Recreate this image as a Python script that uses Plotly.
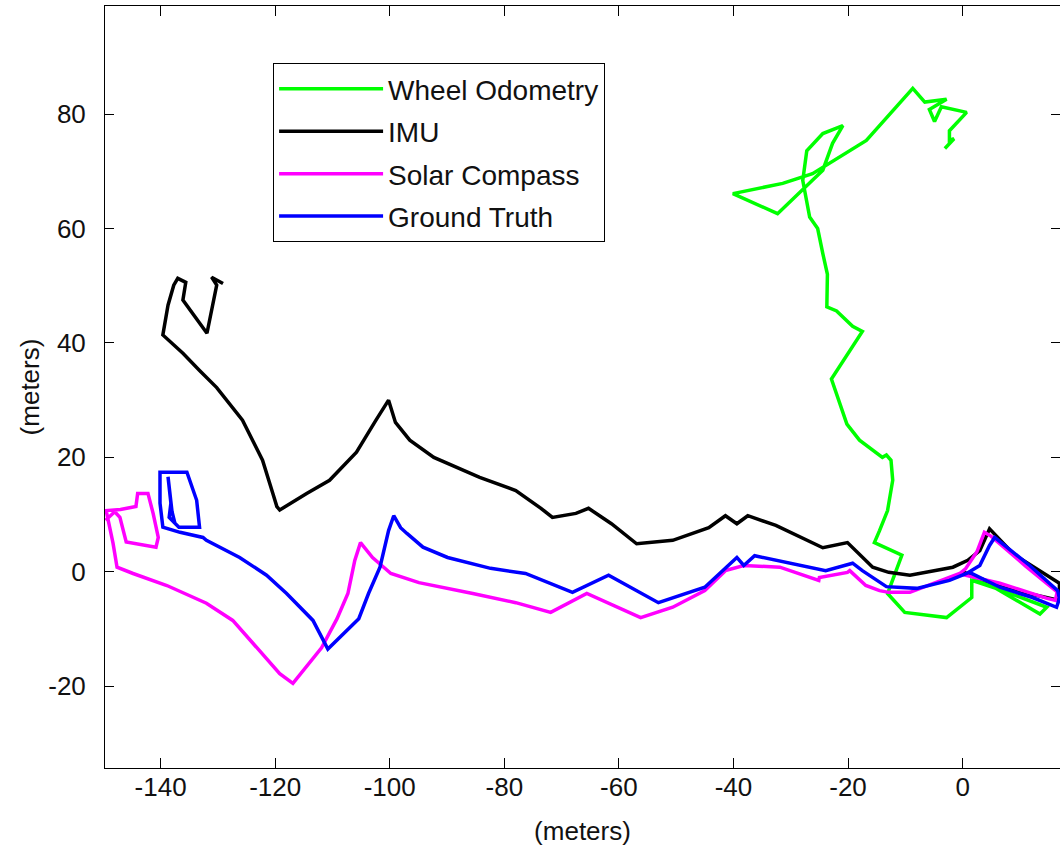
import plotly.graph_objects as go

# ---- data (meters) ----
wheel_x = [0.0, 6.0, 13.5, 14.7, 7.0, 1.6, 1.6, -2.8, -10.1, -13.1, -10.6, -15.4, -14.5, -13.1, -12.2,
           -12.5, -13.3, -14.0, -18.0, -20.2, -22.9, -17.5, -19.2, -22.0, -23.7, -23.6, -24.4, -25.3,
           -26.7, -27.9, -27.2, -24.4, -20.9, -22.7, -24.4, -27.2, -32.3, -40.1, -31.4, -26.2, -16.8,
           -8.7, -6.6, -2.8, -5.8, -4.9, -3.7, 0.7, -2.3, -2.3, -1.5, -3.1]
wheel_y = [0.0, -3.0, -7.4, -6.2, -3.3, -1.5, -4.5, -8.0, -7.1, -3.8, 2.9, 5.1, 7.2, 10.7, 16.0,
           19.5, 20.4, 20.0, 23.0, 25.8, 33.7, 42.0, 42.9, 45.6, 46.3, 52.0, 55.6, 60.0,
           62.0, 68.4, 73.6, 76.6, 78.0, 74.9, 70.2, 67.5, 62.6, 66.1, 67.9, 69.6, 75.4,
           84.5, 82.1, 82.6, 80.8, 78.7, 81.3, 80.3, 77.1, 75.4, 75.7, 74.0]

imu_x = [0.0, 8.0, 16.9, 16.9, 9.0, 4.7, 3.0, 0.9, -1.7, -9.2, -12.9, -15.7, -20.1, -24.4, -32.6,
         -37.5, -39.4, -41.4, -44.3, -50.6, -56.9, -61.3, -65.3, -67.5, -71.6, -73.6, -78.0, -84.3,
         -92.3, -96.5, -99.0, -100.2, -102.4, -105.8, -110.5, -114.5, -119.2, -119.7, -120.4, -122.2,
         -125.7, -127.4, -130.2, -133.2, -136.1, -139.6, -138.7, -137.7, -137.0, -135.6, -136.1,
         -131.9, -130.9, -130.2, -131.1, -129.1]
imu_y = [0.0, -3.0, -5.0, -2.0, 3.0, 7.5, 3.7, 2.0, 0.8, -0.6, -0.1, 0.8, 5.1, 4.2, 8.1,
         9.8, 8.4, 9.8, 7.7, 5.5, 4.9, 8.4, 11.1, 10.2, 9.5, 11.1, 14.2, 16.5,
         20.0, 23.0, 26.1, 30.0, 26.5, 20.9, 16.0, 13.7, 10.8, 11.4, 13.7, 19.5,
         26.5, 28.7, 32.2, 35.2, 38.2, 41.4, 46.6, 50.1, 51.3, 50.6, 47.5,
         41.7, 46.6, 50.1, 51.5, 50.4]

solar_x = [0.0, 6.5, 14.6, 16.2, 16.5, 11.0, 5.0, 3.8, 2.5, 0.5, -0.5, -5.2, -9.2, -12.9, -14.5,
           -16.9, -19.7, -20.1, -25.0, -25.1, -31.9, -38.2, -41.4, -45.0, -50.6, -56.2, -65.6,
           -71.9, -78.0, -85.5, -94.9, -99.8, -103.0, -105.1, -106.1, -107.3, -109.2, -111.9,
           -116.9, -119.2, -123.2, -127.4, -132.0, -138.9, -144.8, -147.6, -148.3, -149.0, -149.5,
           -147.0, -144.3, -144.0, -142.2, -141.3, -140.4, -140.8, -146.0, -147.1, -148.0, -149.6]
solar_y = [-0.5, -2.0, -4.6, -5.0, -3.5, 1.0, 6.2, 6.9, 3.5, 0.5, -0.3, -2.0, -3.6, -3.6, -3.3,
           -2.4, 0.2, -0.1, -1.0, -1.5, 0.8, 1.1, 0.2, -3.3, -6.2, -8.0, -3.8,
           -7.1, -5.4, -3.8, -1.9, -0.3, 2.5, 5.1, 2.0, -3.8, -8.2, -13.3,
           -19.5, -17.8, -13.3, -8.5, -5.5, -2.4, -0.3, 0.8, 5.0, 8.0, 10.7,
           10.9, 11.4, 13.7, 13.7, 10.2, 6.0, 4.3, 5.2, 9.5, 10.5, 9.0]

truth_x = [1.2, 6.5, 12.2, 16.4, 16.9, 16.6, 11.7, 5.6, 4.7, 3.0, 0.7, -2.3, -8.0, -13.3, -17.5,
           -19.2, -23.9, -36.3, -38.2, -39.4, -45.0, -53.1, -61.8, -68.1, -76.3, -82.4, -89.9,
           -94.2, -97.0, -98.1, -99.3, -100.2, -101.7, -103.7, -105.4, -110.8, -113.4, -118.0,
           -121.5, -126.2, -132.0, -132.6, -136.6, -139.6, -140.1, -140.1, -135.4, -134.4, -133.7,
           -133.2, -136.8, -138.5, -138.2, -138.7, -138.0, -137.5]
truth_y = [-0.1, -2.7, -4.5, -6.2, -4.7, -3.3, 1.1, 6.0, 4.6, 1.1, -0.3, -1.5, -2.9, -2.6, 0.2,
           1.5, 0.2, 2.8, 1.1, 2.5, -2.7, -5.4, -0.6, -3.6, -0.3, 0.6, 2.5,
           4.3, 6.7, 7.7, 9.8, 7.2, 0.8, -3.8, -8.2, -13.5, -8.5, -3.8,
           -0.6, 2.5, 5.5, 6.0, 6.9, 7.8, 12.0, 17.4, 17.4, 14.7, 12.5,
           7.8, 7.8, 9.5, 12.0, 16.6, 10.5, 8.5]

series = [
    ("Wheel Odometry", wheel_x, wheel_y, "#00ff00"),
    ("IMU", imu_x, imu_y, "#000000"),
    ("Solar Compass", solar_x, solar_y, "#ff00ff"),
    ("Ground Truth", truth_x, truth_y, "#0000ff"),
]

x_ticks = [-140, -120, -100, -80, -60, -40, -20, 0]
x_tick_labels = ["-140", "-120", "-100", "-80", "-60", "-40", "-20", "0"]
y_ticks = [-20, 0, 20, 40, 60, 80]
y_tick_labels = ["-20", "0", "20", "40", "60", "80"]
x_range = [-149.7, 17.0]
y_range = [-34.3, 98.9]

FONT = "Liberation Sans, Arial, sans-serif"

fig = go.Figure()
for i, (name, xs, ys, col) in enumerate(series):
    fig.add_trace(go.Scatter(x=xs, y=ys, mode="lines", name=name, legendgroup=f"g{i}",
                             line=dict(color=col, width=3.5)))
# helper trace for right-side ticks
fig.add_trace(go.Scatter(x=[], y=[], yaxis="y2", showlegend=False, hoverinfo="skip"))

fig.update_layout(
    width=1060, height=850,
    margin=dict(l=105, r=0, t=6, b=82, autoexpand=False),
    paper_bgcolor="white", plot_bgcolor="white",
    font=dict(family=FONT, size=26, color="#111111"),
    showlegend=True,
    legend=dict(x=0.176, y=0.925, xanchor="left", yanchor="top",
                bordercolor="black", borderwidth=1, bgcolor="white",
                font=dict(size=28), tracegroupgap=3, itemwidth=104,
                entrywidth=355, entrywidthmode="pixels"),
    xaxis=dict(range=x_range, tickvals=x_ticks, ticktext=x_tick_labels,
               ticks="inside", ticklen=10, tickcolor="black",
               showline=True, linecolor="black", linewidth=1, mirror="ticks",
               showgrid=False, zeroline=False, automargin=False, ticklabelstandoff=-4,
               title=dict(text="(meters)", standoff=20, font=dict(size=26))),
    yaxis=dict(range=y_range, tickvals=y_ticks, ticktext=y_tick_labels,
               ticks="inside", ticklen=9, tickcolor="black",
               showline=True, linecolor="black", linewidth=1, mirror=False,
               showgrid=False, zeroline=False, automargin=False, ticklabelstandoff=13,
               title=dict(text="(meters)", standoff=1, font=dict(size=26))),
    yaxis2=dict(range=y_range, tickvals=y_ticks, ticks="inside", ticklen=9, tickcolor="black",
                overlaying="y", side="right", showticklabels=False, showline=False,
                showgrid=False, zeroline=False, automargin=False),
)

fig.write_html("out.html", config={"displayModeBar": False},
               post_script="document.body.style.margin='0px';")
